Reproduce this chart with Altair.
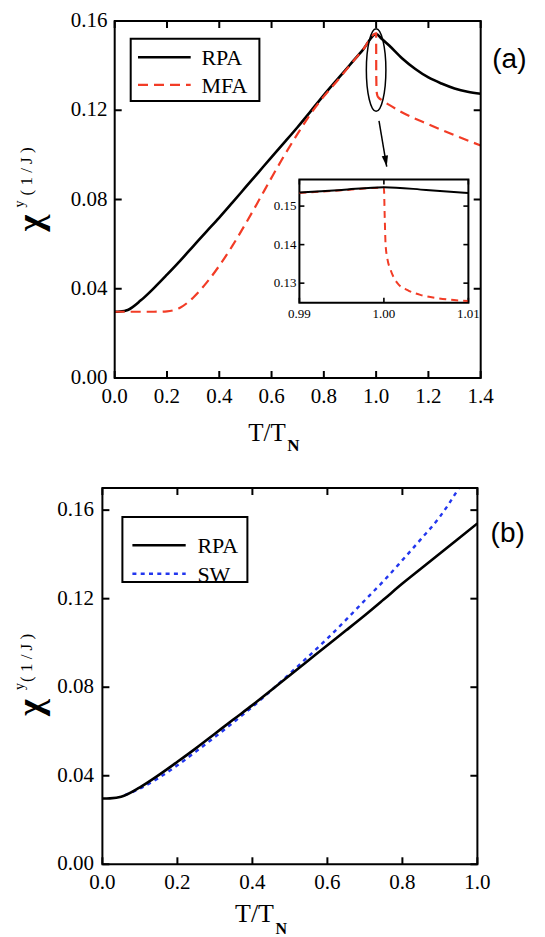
import altair as alt
import pandas as pd

# ---------------- data ----------------
# panel (a), main plot
a_rpa_x = [0.0, 0.02, 0.05, 0.1, 0.15, 0.2, 0.25, 0.3, 0.35, 0.4, 0.45, 0.5, 0.55, 0.6, 0.65,
           0.7, 0.75, 0.8, 0.85, 0.9, 0.95, 1.0, 1.02, 1.05, 1.1, 1.15, 1.2, 1.25, 1.3, 1.35, 1.4]
a_rpa_y = [0.0297, 0.0298, 0.0305, 0.0348, 0.0403, 0.0463, 0.0525, 0.0590, 0.0655, 0.0719,
           0.0786, 0.0854, 0.0922, 0.0990, 0.1057, 0.1125, 0.1196, 0.1268, 0.1336, 0.1404,
           0.1472, 0.1542, 0.1522, 0.1490, 0.1432, 0.1385, 0.1347, 0.1320, 0.1298, 0.1283, 0.1274]
a_mfa_x = [0.0, 0.05, 0.1, 0.15, 0.2, 0.25, 0.3, 0.35, 0.4, 0.45, 0.5, 0.55, 0.6, 0.65, 0.7,
           0.75, 0.8, 0.85, 0.9, 0.95, 1.0, 1.0005, 1.002, 1.005, 1.01, 1.02, 1.05, 1.1, 1.2, 1.3, 1.4]
a_mfa_y = [0.0297, 0.0297, 0.0297, 0.0297, 0.0299, 0.0315, 0.0360, 0.0425, 0.0503, 0.0592,
           0.0690, 0.0793, 0.0898, 0.1000, 0.1095, 0.1185, 0.1262, 0.1330, 0.1402, 0.1472,
           0.1545, 0.1360, 0.1283, 0.1265, 0.1256, 0.1247, 0.1224, 0.1190, 0.1137, 0.1088, 0.1042]
a_xticks = [0.0, 0.2, 0.4, 0.6, 0.8, 1.0, 1.2, 1.4]
a_yticks = [0.0, 0.04, 0.08, 0.12, 0.16]
a_xdom = [0.0, 1.4]
a_ydom = [0.0, 0.16]
a_series = ["RPA", "MFA"]

# panel (a), inset
in_rpa_x = [0.99, 0.995, 1.0, 1.005, 1.01]
in_rpa_y = [0.1535, 0.1542, 0.1549, 0.1542, 0.1534]
in_mfa_x = [0.99, 0.995, 1.0, 1.0001, 1.0002, 1.0004, 1.0008, 1.0016, 1.0028, 1.0044,
            1.0063, 1.0083, 1.01]
in_mfa_y = [0.1534, 0.1541, 0.1548, 0.1470, 0.1400, 0.1365, 0.1334, 0.1300, 0.1282, 0.1269,
            0.1261, 0.1256, 0.1254]
in_xticks = [0.99, 1.00, 1.01]
in_yticks = [0.13, 0.14, 0.15]
in_xdom = [0.99, 1.01]
in_ydom = [0.1249, 0.1569]

# zoom ellipse and arrow (annotation, data units of panel a)
ell_x = [1.0]
ell_y = [0.1380]
arrow_x = [1.011]
arrow_x2 = [1.0405]
arrow_y = [0.1152]
arrow_y2 = [0.0947]

# panel (b)
b_rpa_x = [0.0, 0.02, 0.05, 0.1, 0.15, 0.2, 0.25, 0.3, 0.35, 0.4, 0.45, 0.5, 0.55, 0.6, 0.65,
           0.7, 0.75, 0.8, 0.85, 0.9, 0.95, 1.0]
b_rpa_y = [0.0297, 0.0298, 0.0305, 0.0348, 0.0403, 0.0463, 0.0525, 0.0590, 0.0655, 0.0719,
           0.0786, 0.0854, 0.0922, 0.0990, 0.1057, 0.1125, 0.1196, 0.1268, 0.1336, 0.1404,
           0.1472, 0.1540]
b_sw_x = [0.06, 0.1, 0.15, 0.2, 0.25, 0.3, 0.35, 0.4, 0.45, 0.5, 0.55, 0.6, 0.65, 0.7, 0.75,
          0.8, 0.85, 0.9, 0.95]
b_sw_y = [0.0312, 0.0342, 0.0390, 0.0447, 0.0510, 0.0575, 0.0642, 0.0711, 0.0785, 0.0862,
          0.0940, 0.1020, 0.1105, 0.1193, 0.1280, 0.1374, 0.1470, 0.1570, 0.1698]
b_xticks = [0.0, 0.2, 0.4, 0.6, 0.8, 1.0]
b_yticks = [0.0, 0.04, 0.08, 0.12, 0.16]
b_xdom = [0.0, 1.0]
b_ydom = [0.0, 0.17]
b_series = ["RPA", "SW"]

# ---------------- style / layout (page pixels) ----------------
SERIF = "Liberation Serif"
SANS = "Liberation Sans"
RED = "#f23c26"
BLUE = "#2236ee"
NBSP = "\u00a0"
JTXT = NBSP.join(["(", "1", "/", "J", ")"])
TICK = 7
LABEL = 21


class Frame:
    """page-pixel placement of one panel; gutter g keeps both panel origins aligned"""
    def __init__(self, ox, oy, w, h, g):
        self.ox, self.oy, self.w, self.h, self.g = ox, oy, w, h, g

    def px(self, x):
        return x - self.ox + self.g

    def py(self, y):
        return y - self.oy


FA = Frame(114, 20.5, 366, 357, 12.3)
FB = Frame(101.7, 486, 375, 376.3, 0)


def one(**cols):
    return pd.DataFrame({k: [v] for k, v in cols.items()})


def line(xs, ys, X, Y, color, width, dash=None):
    kw = dict(color=color, strokeWidth=width, interpolate="monotone", clip=True)
    if dash:
        kw["strokeDash"] = dash
    return alt.Chart(pd.DataFrame({"x": xs, "y": ys})).mark_line(**kw).encode(x=X, y=Y)


def tick_labels(xt, yt, X, Y, xfmt, yfmt, ybase, xright, size):
    dx = pd.DataFrame({"x": xt, "lab": [format(v, xfmt) for v in xt]})
    dy = pd.DataFrame({"y": yt, "lab": [format(v, yfmt) for v in yt]})
    st = dict(font=SERIF, fontSize=size, color="black")
    return [
        alt.Chart(dx).mark_text(align="center", baseline="top", **st).encode(
            x=X, y=alt.value(ybase), text="lab:N"),
        alt.Chart(dy).mark_text(align="right", baseline="middle", **st).encode(
            y=Y, x=alt.value(xright), text="lab:N"),
    ]


def frame_and_ticks(F, xt, yt, X, Y, xfmt, yfmt, ypad, L=TICK):
    m = dict(color="black", strokeWidth=2)
    g, W, H = F.g, F.w, F.h
    dx = pd.DataFrame({"x": xt})
    dy = pd.DataFrame({"y": yt})
    return [
        alt.Chart(one(a=0)).mark_rect(fill="white", fillOpacity=0, stroke="black", strokeWidth=2)
        .encode(x=alt.value(g), x2=alt.value(g + W), y=alt.value(0), y2=alt.value(H)),
        alt.Chart(dx).mark_rule(**m).encode(x=X, y=alt.value(H), y2=alt.value(H - L)),
        alt.Chart(dx).mark_rule(**m).encode(x=X, y=alt.value(0), y2=alt.value(L)),
        alt.Chart(dy).mark_rule(**m).encode(y=Y, x=alt.value(g), x2=alt.value(g + L)),
        alt.Chart(dy).mark_rule(**m).encode(y=Y, x=alt.value(g + W - L), x2=alt.value(g + W)),
        *tick_labels(xt, yt, X, Y, xfmt, yfmt, H + 8, g - ypad, LABEL),
    ]


def text(F, t, x, y, size, font=SERIF, angle=0, align="center", baseline="middle", weight="normal"):
    return alt.Chart(one(t=t)).mark_text(
        font=font, fontSize=size, angle=angle, align=align, baseline=baseline,
        fontWeight=weight, color="black").encode(
        text="t:N", x=alt.value(F.px(x)), y=alt.value(F.py(y)))


def legend(F, box, entries, lx0, lx1, tx):
    x0, x1, y0, y1 = box
    out = [alt.Chart(one(a=0)).mark_rect(fill="white", stroke="black", strokeWidth=2).encode(
        x=alt.value(F.px(x0)), x2=alt.value(F.px(x1)), y=alt.value(F.py(y0)), y2=alt.value(F.py(y1)))]
    for name, color, width, dash, ly in entries:
        kw = dict(color=color, strokeWidth=width)
        if dash:
            kw["strokeDash"] = dash
        out.append(alt.Chart(one(a=0)).mark_rule(**kw).encode(
            x=alt.value(F.px(lx0)), x2=alt.value(F.px(lx1)), y=alt.value(F.py(ly))))
        out.append(text(F, name, tx, ly + 1, 22, align="left"))
    return out


def ytitle(F, y_chi, y_sup, y_j):
    # rotated text reading upward; anchor = lower end of each piece
    return [text(F, "χ", 30.6, y_chi, 36, angle=270, align="left", weight="bold"),
            text(F, "y", 19.4, y_sup, 14, angle=270, align="left"),
            text(F, JTXT, 26.0, y_j, 17, angle=270, align="left")]


def xtitle(F, x_right, y_base, y_sub, s1, s2):
    return [text(F, "T/T", x_right, y_base, s1, align="right", baseline="alphabetic"),
            text(F, "N", x_right + 1.5, y_sub, s2, align="left", baseline="alphabetic", weight="bold")]


# ---------------- panel (a) ----------------
axs = alt.Scale(domain=a_xdom, range=[FA.g, FA.g + FA.w], nice=False, zero=False)
ays = alt.Scale(domain=a_ydom, nice=False, zero=False)
AX = alt.X("x:Q", scale=axs, axis=None)
AY = alt.Y("y:Q", scale=ays, axis=None)

ELLIPSE = "M0,-1 A0.237,1 0 1,1 0,1 A0.237,1 0 1,1 0,-1 Z"
HEAD = "M0,0 L-0.45,-1.6 L0.45,-1.6 Z"

main_a = alt.layer(
    line(a_rpa_x, a_rpa_y, AX, AY, "black", 2.6),
    line(a_mfa_x, a_mfa_y, AX, AY, RED, 2.2, [10, 6]),
    *frame_and_ticks(FA, a_xticks, a_yticks, AX, AY, ".1f", ".2f", 7.3),
    alt.Chart(pd.DataFrame({"x": ell_x, "y": ell_y})).mark_point(
        shape=ELLIPSE, size=6800, filled=False, color="black", strokeWidth=1.5, opacity=1
    ).encode(x=AX, y=AY),
    alt.Chart(pd.DataFrame({"x": arrow_x, "x2": arrow_x2, "y": arrow_y, "y2": arrow_y2})).mark_rule(
        color="black", strokeWidth=1.5).encode(x=AX, x2="x2:Q", y=AY, y2="y2:Q"),
    alt.Chart(pd.DataFrame({"x": arrow_x2, "y": arrow_y2})).mark_point(
        shape=HEAD, size=196, filled=True, color="black", angle=350.6, opacity=1
    ).encode(x=AX, y=AY),
    *legend(FA, (130, 258.7, 38.3, 100.5),
            [(a_series[0], "black", 2.6, None, 56.7), (a_series[1], RED, 2.2, [10, 6], 84.3)],
            137.3, 190, 200.7),
    *ytitle(FA, 231, 207, 195),
    *xtitle(FA, 285, 440, 450, 25, 17),
    text(FA, "(a)", 508.7, 59.2, 28, font=SANS),
)

# inset (page box 298.7..467.7 x 179..302.3)
IX0, IX1 = FA.px(298.7), FA.px(467.7)
IY0, IY1 = FA.py(179), FA.py(302.3)
ixs = alt.Scale(domain=in_xdom, range=[IX0, IX1], nice=False, zero=False)
iys = alt.Scale(domain=in_ydom, range=[IY1, IY0], nice=False, zero=False)
IX = alt.X("x:Q", scale=ixs, axis=None)
IY = alt.Y("y:Q", scale=iys, axis=None)
lx = 5 / (IX1 - IX0) * (in_xdom[1] - in_xdom[0])
ly = 5 / (IY1 - IY0) * (in_ydom[1] - in_ydom[0])
im = dict(color="black", strokeWidth=1.6)

inset = alt.layer(
    alt.Chart(pd.DataFrame({"x": [in_xdom[0]], "x2": [in_xdom[1]], "y": [in_ydom[0]], "y2": [in_ydom[1]]}))
    .mark_rect(fill="white", stroke="black", strokeWidth=2)
    .encode(x=IX, x2="x2:Q", y=IY, y2="y2:Q"),
    line(in_mfa_x, in_mfa_y, IX, IY, RED, 2, [7, 5]),
    line(in_rpa_x, in_rpa_y, IX, IY, "black", 2),
    alt.Chart(pd.DataFrame({"y": in_yticks, "x": [in_xdom[0]] * 3, "x2": [in_xdom[0] + lx] * 3}))
    .mark_rule(**im).encode(x=IX, x2="x2:Q", y=IY),
    alt.Chart(pd.DataFrame({"y": in_yticks, "x": [in_xdom[1] - lx] * 3, "x2": [in_xdom[1]] * 3}))
    .mark_rule(**im).encode(x=IX, x2="x2:Q", y=IY),
    alt.Chart(pd.DataFrame({"x": in_xticks, "y": [in_ydom[0]] * 3, "y2": [in_ydom[0] + ly] * 3}))
    .mark_rule(**im).encode(x=IX, y=IY, y2="y2:Q"),
    alt.Chart(pd.DataFrame({"x": in_xticks, "y": [in_ydom[1] - ly] * 3, "y2": [in_ydom[1]] * 3}))
    .mark_rule(**im).encode(x=IX, y=IY, y2="y2:Q"),
    *tick_labels(in_xticks, in_yticks, IX, IY, ".2f", ".2f", IY1 + 5, IX0 - 3, 13),
)

panel_a = alt.layer(main_a, inset).resolve_scale(
    x="independent", y="independent").properties(width=FA.g + FA.w, height=FA.h)

# ---------------- panel (b) ----------------
bxs = alt.Scale(domain=b_xdom, nice=False, zero=False)
bys = alt.Scale(domain=b_ydom, nice=False, zero=False)
BX = alt.X("x:Q", scale=bxs, axis=None)
BY = alt.Y("y:Q", scale=bys, axis=None)

panel_b = alt.layer(
    line(b_sw_x, b_sw_y, BX, BY, BLUE, 2.4, [4, 4.3]),
    line(b_rpa_x, b_rpa_y, BX, BY, "black", 2.6),
    *frame_and_ticks(FB, b_xticks, b_yticks, BX, BY, ".1f", ".2f", 8.5),
    *legend(FB, (121.7, 246.7, 515, 580),
            [(b_series[0], "black", 2.6, None, 543.3), (b_series[1], BLUE, 2.4, [4, 4.3], 571.7)],
            131.7, 185, 196.7),
    *ytitle(FB, 714, 688, 680),
    *xtitle(FB, 273.3, 920, 932, 26, 16),
    text(FB, "(b)", 507, 531.7, 28, font=SANS),
).properties(width=FB.w, height=FB.h)

chart = alt.vconcat(panel_a, panel_b, spacing=33).properties(
    padding={"left": 4.4, "top": 2, "right": 5, "bottom": 0},
    background="white",
).configure_view(strokeWidth=0)

chart.save("out.html", embed_options={"renderer": "svg", "actions": False})
